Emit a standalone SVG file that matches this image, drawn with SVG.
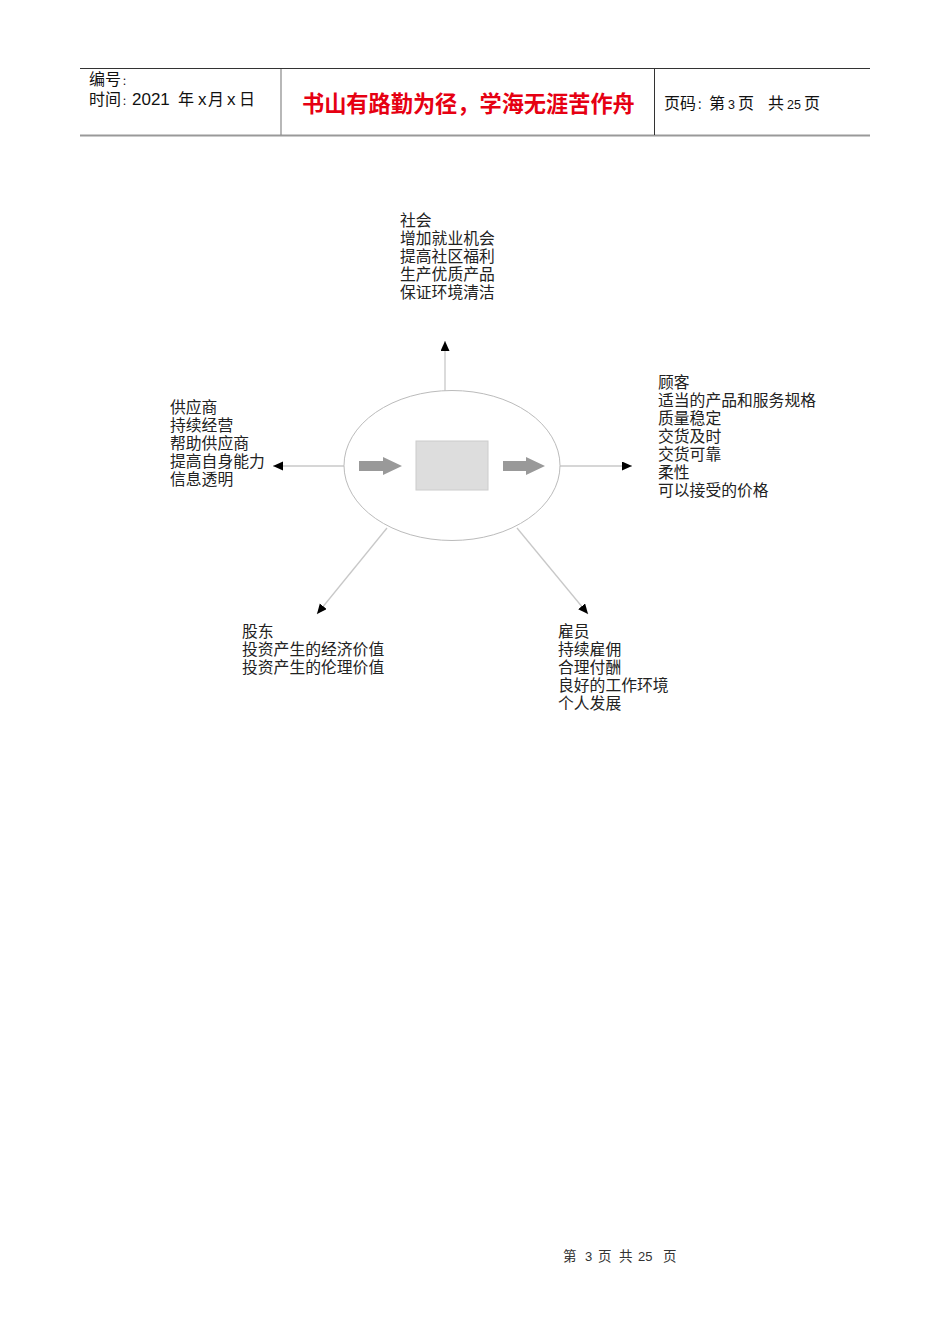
<svg xmlns="http://www.w3.org/2000/svg" width="950" height="1344" viewBox="0 0 950 1344">
<style>
.lbl{font-family:"Liberation Serif","Noto Sans CJK SC",serif;font-size:15.8px;fill:#222;}
.hd{font-family:"Liberation Sans","Noto Sans CJK SC",sans-serif;font-size:16px;fill:#111;}
.dg{font-family:"Liberation Sans","Noto Sans CJK SC",sans-serif;}
.title{font-family:"Liberation Sans","Noto Sans CJK SC",sans-serif;font-size:22.2px;font-weight:bold;fill:#e60012;}
.conn{stroke:#c8c8c8;stroke-width:1.3;fill:none;}
.ft{font-family:"Liberation Serif","Noto Sans CJK SC",serif;font-size:13.5px;fill:#333;}
</style>
<defs>
<marker id="ah" markerUnits="userSpaceOnUse" markerWidth="11" markerHeight="10" refX="10" refY="4.5" orient="auto">
<path d="M0,0 L10,4.5 L0,9 z" fill="#000"/>
</marker>
</defs>
<rect width="950" height="1344" fill="#fff"/>
<g id="header">
<line x1="80" y1="68.5" x2="870" y2="68.5" stroke="#333" stroke-width="1"/>
<line x1="80" y1="135.5" x2="870" y2="135.5" stroke="#999" stroke-width="2"/>
<line x1="281" y1="69" x2="281" y2="135" stroke="#888" stroke-width="1.2"/>
<line x1="654.5" y1="69" x2="654.5" y2="135" stroke="#333" stroke-width="1"/>
<text class="hd" y="85"><tspan x="89">编号</tspan><tspan x="122" font-size="10">：</tspan></text>
<text class="hd" y="105"><tspan x="89">时间</tspan><tspan x="122" font-size="10">：</tspan><tspan x="132" class="dg" font-size="17">2021</tspan><tspan x="178">年</tspan><tspan x="198" class="dg" font-size="17">x</tspan><tspan x="208">月</tspan><tspan x="227" class="dg" font-size="17">x</tspan><tspan x="239">日</tspan></text>
<text class="title" x="302" y="112">书山有路勤为径，学海无涯苦作舟</text>
<text class="hd" y="109"><tspan x="664">页码</tspan><tspan x="697" font-size="11">：</tspan><tspan x="709">第</tspan><tspan x="728" class="dg" font-size="12.5">3</tspan><tspan x="738">页</tspan><tspan x="768">共</tspan><tspan x="787" class="dg" font-size="12.5">25</tspan><tspan x="804">页</tspan></text>
</g>
<g id="connectors">
<line class="conn" x1="445" y1="391" x2="445" y2="341" marker-end="url(#ah)"/>
<line class="conn" x1="344" y1="466" x2="273" y2="466" marker-end="url(#ah)"/>
<line class="conn" x1="560" y1="466" x2="632" y2="466" marker-end="url(#ah)"/>
<line class="conn" x1="387" y1="528" x2="317" y2="614" marker-end="url(#ah)"/>
<line class="conn" x1="517" y1="528" x2="588" y2="614" marker-end="url(#ah)"/>
</g>
<g id="center">
<ellipse cx="452" cy="465.5" rx="108" ry="75" fill="#fff" stroke="#bbb" stroke-width="1"/>
<rect x="416" y="441" width="72" height="49" fill="#ddd" stroke="#ccc" stroke-width="1"/>
<polygon points="359,461 383,461 383,457 402,466 383,475 383,471 359,471" fill="#999"/>
<polygon points="503,461 526,461 526,457 545,466 526,475 526,471 503,471" fill="#999"/>
</g>
<g id="society">
<text class="lbl" x="400" y="226">社会</text>
<text class="lbl" x="400" y="244">增加就业机会</text>
<text class="lbl" x="400" y="262">提高社区福利</text>
<text class="lbl" x="400" y="280">生产优质产品</text>
<text class="lbl" x="400" y="298">保证环境清洁</text>
</g>
<g id="supplier">
<text class="lbl" x="170" y="413">供应商</text>
<text class="lbl" x="170" y="431">持续经营</text>
<text class="lbl" x="170" y="449">帮助供应商</text>
<text class="lbl" x="170" y="467">提高自身能力</text>
<text class="lbl" x="170" y="485">信息透明</text>
</g>
<g id="customer">
<text class="lbl" x="658" y="388">顾客</text>
<text class="lbl" x="658" y="406">适当的产品和服务规格</text>
<text class="lbl" x="658" y="424">质量稳定</text>
<text class="lbl" x="658" y="442">交货及时</text>
<text class="lbl" x="658" y="460">交货可靠</text>
<text class="lbl" x="658" y="478">柔性</text>
<text class="lbl" x="658" y="496">可以接受的价格</text>
</g>
<g id="shareholder">
<text class="lbl" x="242" y="637">股东</text>
<text class="lbl" x="242" y="655">投资产生的经济价值</text>
<text class="lbl" x="242" y="673">投资产生的伦理价值</text>
</g>
<g id="employee">
<text class="lbl" x="558" y="637">雇员</text>
<text class="lbl" x="558" y="655">持续雇佣</text>
<text class="lbl" x="558" y="673">合理付酬</text>
<text class="lbl" x="558" y="691">良好的工作环境</text>
<text class="lbl" x="558" y="709">个人发展</text>
</g>
<g id="footer">
<text class="ft" y="1261"><tspan x="563">第</tspan><tspan x="585" class="dg" font-size="13">3</tspan><tspan x="598">页</tspan><tspan x="619">共</tspan><tspan x="638" class="dg" font-size="13">25</tspan><tspan x="663">页</tspan></text>
</g>
</svg>
